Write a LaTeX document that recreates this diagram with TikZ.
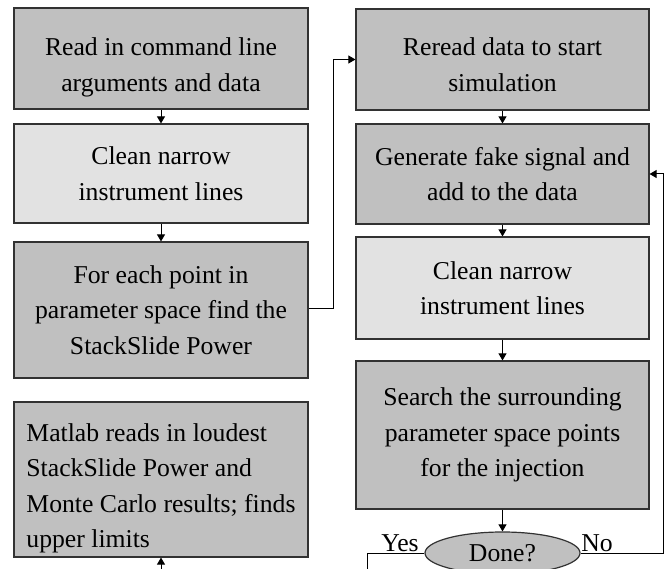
\documentclass[tikz,border=0pt]{standalone}
\usepackage{fontspec}
\setmainfont{Liberation Serif}
\usetikzlibrary{arrows.meta,shapes.geometric}
\definecolor{boxdark}{RGB}{192,192,192}
\definecolor{boxlight}{RGB}{226,226,226}
\definecolor{edge}{RGB}{50,50,50}
\newcommand{\lowtext}[3]{\raisebox{-#1}[\height][\depth]{\begin{tabular}{@{}#2@{}}#3\end{tabular}}}
\begin{document}
\begin{tikzpicture}[x=1pt,y=-1pt,
  every node/.style={font=\fontsize{25.7}{35.5}\selectfont, inner sep=0pt},
  darkbox/.style={draw=edge, line width=1.2pt, fill=boxdark, align=center},
  lightbox/.style={draw=edge, line width=1.2pt, fill=boxlight, align=center},
  conn/.style={draw=black, line width=1pt, -{Triangle[length=7pt,width=8pt]}},
  plain/.style={draw=black, line width=1pt},
  lbl/.style={font=\fontsize{25.7}{30}\selectfont}]
\useasboundingbox (0,0) rectangle (672,569);
% left column
\node[darkbox, minimum width=294pt, minimum height=101pt] (b1) at (161,58.5) {\lowtext{8pt}{c}{Read in command line\\arguments and data}};
\node[lightbox, minimum width=294pt, minimum height=99pt] (b2) at (161,173.5) {Clean narrow\\instrument lines};
\node[darkbox, minimum width=294pt, minimum height=136pt] (b3) at (161,310) {For each point in\\parameter space find the\\StackSlide Power};
\node[darkbox, minimum width=294pt, minimum height=155pt] (b4) at (161,479.5) {\lowtext{8pt}{l}{Matlab reads in loudest\\StackSlide Power and\\Monte Carlo results; finds\\upper limits}};
% right column
\node[darkbox, minimum width=293pt, minimum height=101pt] (r1) at (502.5,59.5) {\lowtext{7pt}{c}{Reread data to start\\simulation}};
\node[darkbox, minimum width=293pt, minimum height=100pt] (r2) at (502.5,174) {Generate fake signal and\\add to the data};
\node[lightbox, minimum width=293pt, minimum height=102pt] (r3) at (502.5,288) {Clean narrow\\instrument lines};
\node[darkbox, minimum width=293pt, minimum height=148pt] (r4) at (502.5,435) {Search the surrounding\\parameter space points\\for the injection};
\node[ellipse, draw=edge, line width=1.2pt, fill=boxdark, minimum width=155pt, minimum height=42pt] (done) at (502.5,553) {Done?};
\node[lbl] (yes) at (400,543) {Yes};
\node[lbl] (no) at (597,543) {No};
% coordinates
\coordinate (c1) at (333,309);
\coordinate (c2) at (333,59.5);
\coordinate (y1) at (367,553);
\coordinate (y2) at (367,575);
\coordinate (n1) at (663,553);
\coordinate (n2) at (663,174);
\coordinate (m0) at (161,575);
% connectors
\draw[conn] (b1) -- (b2);
\draw[conn] (b2) -- (b3);
\draw[conn] (b3.east |- c1) -- (c1) -- (c2) -- (r1.west);
\draw[conn] (r1) -- (r2);
\draw[conn] (r2) -- (r3);
\draw[conn] (r3) -- (r4);
\draw[conn] (r4) -- (done);
\draw[conn] (done.east) -- (n1) -- (n2) -- (r2.east);
\draw[plain] (done.west) -- (y1) -- (y2);
\draw[conn] (m0) -- (b4);
\end{tikzpicture}
\end{document}
